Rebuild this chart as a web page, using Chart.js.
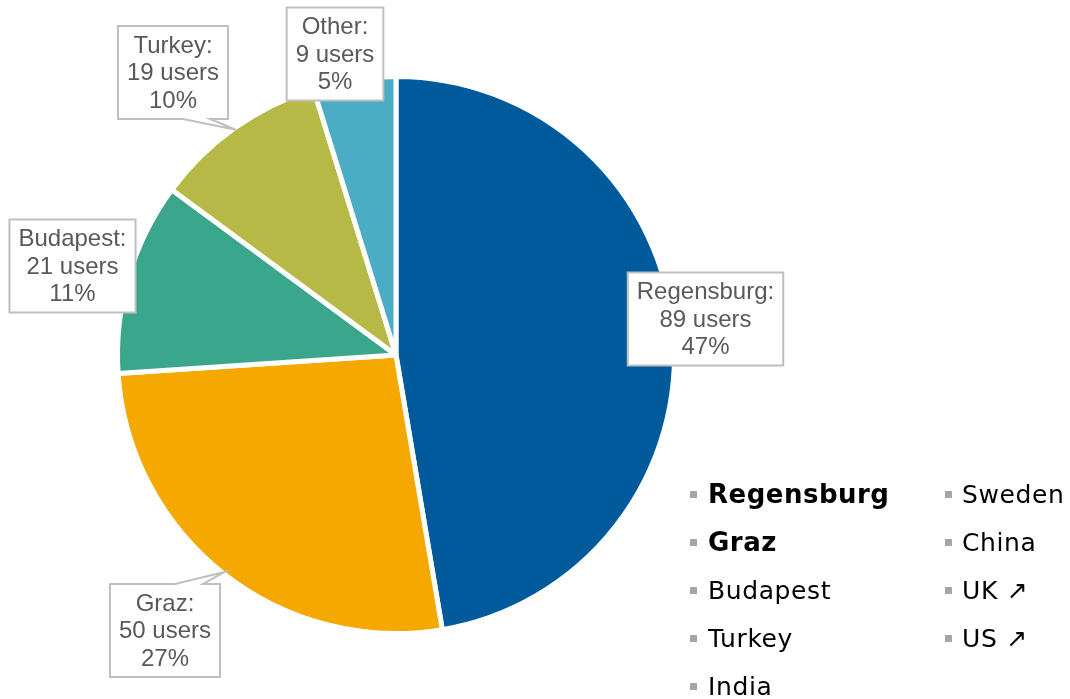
<!DOCTYPE html>
<html><head><meta charset="utf-8">
<script src="https://cdn.jsdelivr.net/npm/chart.js@4"></script>
<style>html,body{margin:0;padding:0;background:#fff;overflow:hidden}canvas{display:block}</style>
</head><body>
<canvas id="c" width="1070" height="699"></canvas>
<script>
// ---- data ----
const categories = ['Regensburg', 'Graz', 'Budapest', 'Turkey', 'Other'];
const users = [89, 50, 21, 19, 9];
const unitLabel = 'users';
const legendCol1 = ['Regensburg', 'Graz', 'Budapest', 'Turkey', 'India'];
const legendCol1Bold = [true, true, false, false, false];
const legendCol2 = ['Sweden', 'China', 'UK \u2197', 'US \u2197'];

// ---- style / layout ----
const colors = ['#005A9B', '#F5A800', '#3AA78D', '#B6B946', '#4BACC6'];
const labelBoxes = [
  { cx: 705.5, cy: 319 },
  { cx: 165, cy: 630.5, callout: { side: 'top', a: 10, b: 38 } },
  { cx: 72.5, cy: 266 },
  { cx: 173, cy: 72.5, callout: { side: 'bottom', a: 10, b: 37 } },
  { cx: 335, cy: 54 }
];

const total = users.reduce((s, v) => s + v, 0);

const labelPlugin = {
  id: 'labelBoxes',
  afterDatasetsDraw(chart) {
    const ctx = chart.ctx;
    const meta = chart.getDatasetMeta(0);
    ctx.save();
    ctx.font = '24px "Liberation Sans", Arial, sans-serif';
    meta.data.forEach((arc, i) => {
      const lines = [categories[i] + ':', users[i] + ' ' + unitLabel, Math.round(users[i] / total * 100) + '%'];
      const w = Math.max(...lines.map(l => ctx.measureText(l).width)) + 18;
      const h = 93;
      const L = labelBoxes[i];
      const x0 = L.cx - w / 2, x1 = L.cx + w / 2, y0 = L.cy - h / 2, y1 = L.cy + h / 2;
      ctx.beginPath();
      if (L.callout) {
        const mid = (arc.startAngle + arc.endAngle) / 2;
        const r = arc.outerRadius - 2;
        const tx = arc.x + Math.cos(mid) * r;
        const ty = arc.y + Math.sin(mid) * r;
        const ax = L.cx + L.callout.a, bx = L.cx + L.callout.b;
        if (L.callout.side === 'bottom') {
          ctx.moveTo(x0, y0); ctx.lineTo(x1, y0); ctx.lineTo(x1, y1);
          ctx.lineTo(bx, y1); ctx.lineTo(tx, ty); ctx.lineTo(ax, y1);
          ctx.lineTo(x0, y1); ctx.closePath();
        } else {
          ctx.moveTo(x0, y0); ctx.lineTo(ax, y0); ctx.lineTo(tx, ty); ctx.lineTo(bx, y0);
          ctx.lineTo(x1, y0); ctx.lineTo(x1, y1); ctx.lineTo(x0, y1); ctx.closePath();
        }
      } else {
        ctx.rect(x0, y0, w, h);
      }
      ctx.fillStyle = '#ffffff';
      ctx.fill();
      ctx.lineWidth = 2;
      ctx.strokeStyle = '#BFBFBF';
      ctx.lineJoin = 'miter';
      ctx.stroke();
      ctx.fillStyle = '#595959';
      ctx.textAlign = 'center';
      ctx.textBaseline = 'middle';
      lines.forEach((t, k) => ctx.fillText(t, L.cx, L.cy + 1 + (k - 1) * 27.5));
    });
    ctx.restore();
  }
};

const legendPlugin = {
  id: 'customLegend',
  afterDraw(chart) {
    const ctx = chart.ctx;
    ctx.save();
    ctx.textAlign = 'left';
    ctx.textBaseline = 'alphabetic';
    const rowBase = [503, 551, 599, 647, 695];
    const drawItem = (text, bold, mx, tx, base) => {
      ctx.fillStyle = '#A6A6A6';
      ctx.fillRect(mx, base - 12, 7, 7);
      ctx.fillStyle = '#000000';
      ctx.font = (bold ? 'bold 26px' : '25px') + ' "DejaVu Sans", Verdana, sans-serif';
      ctx.letterSpacing = bold ? '0.5px' : '0.6px';
      ctx.fillText(text, tx, base);
    };
    legendCol1.forEach((t, i) => drawItem(t, legendCol1Bold[i], 690, 708, rowBase[i]));
    legendCol2.forEach((t, i) => drawItem(t, false, 945, 962, rowBase[i]));
    ctx.restore();
  }
};

new Chart(document.getElementById('c'), {
  type: 'pie',
  data: {
    labels: categories,
    datasets: [{
      data: users,
      backgroundColor: colors,
      borderColor: '#ffffff',
      borderWidth: 5
    }]
  },
  options: {
    responsive: false,
    animation: false,
    layout: { padding: { left: 115, right: 393, top: 74, bottom: 63 } },
    plugins: { legend: { display: false }, tooltip: { enabled: false } }
  },
  plugins: [labelPlugin, legendPlugin]
});
</script>
</body></html>
